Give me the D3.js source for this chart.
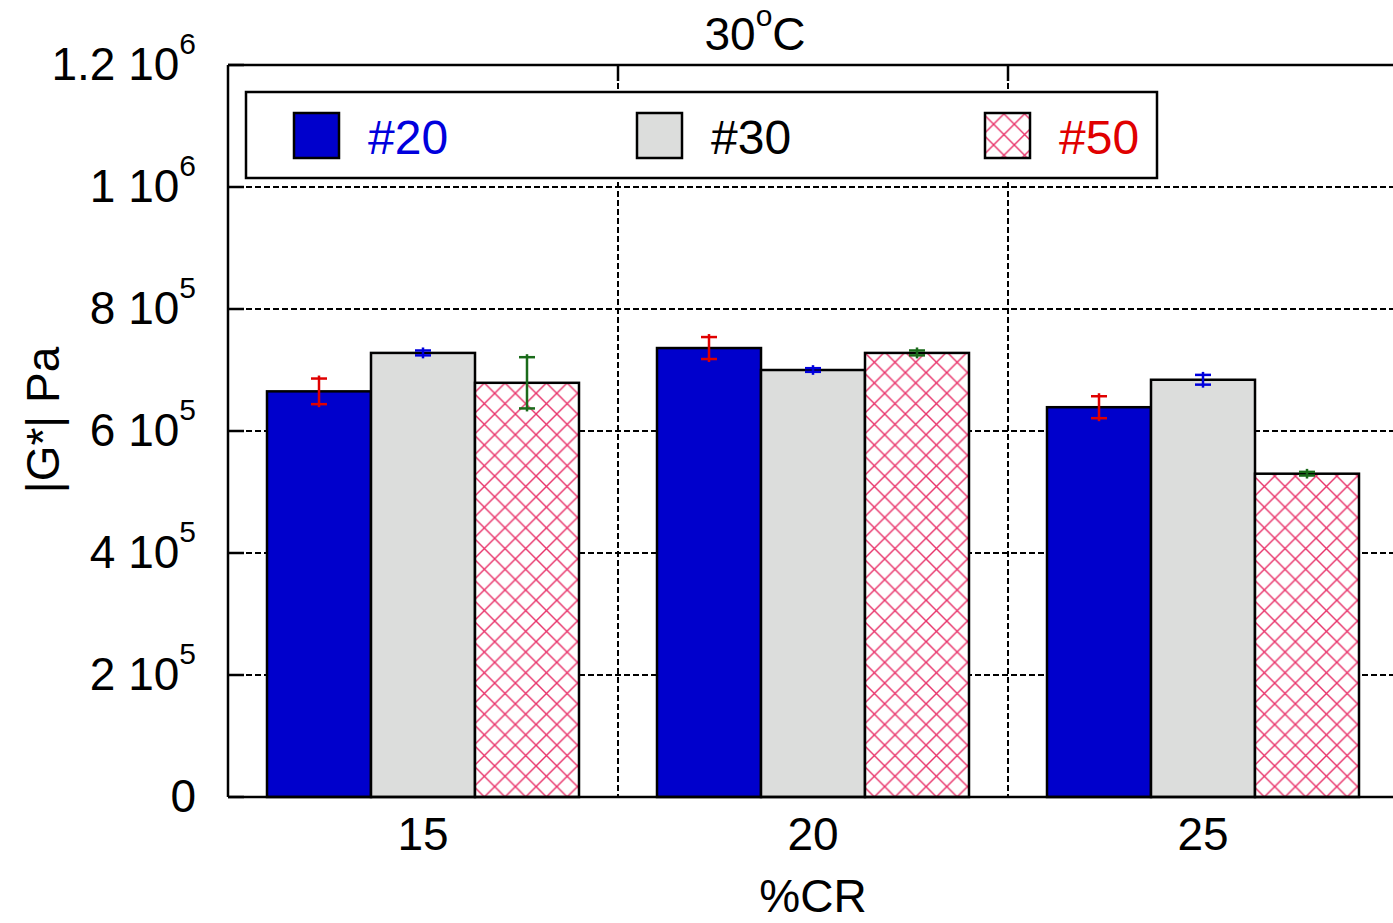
<!DOCTYPE html>
<html>
<head>
<meta charset="UTF-8">
<script src="https://d3js.org/d3.v7.min.js"></script>
<style>
  body { margin: 0; background: #fff; }
  svg { font-family: "Liberation Sans", Arial, sans-serif; display: block; }
  .grid { stroke: #000; stroke-width: 2; stroke-dasharray: 6,3; }
</style>
</head>
<body>
<svg id="chart" width="1393" height="923"></svg>
<script>
// data
const categories = ["15", "20", "25"];
const series = ["#20", "#30", "#50"];
const values = {
  "#20": [665000, 736000, 639000],
  "#30": [728000, 700000, 684000],
  "#50": [679000, 728000, 530000]
};
const errors = {
  "#20": [21000, 18000, 18000],
  "#30": [4000, 3000, 8000],
  "#50": [42000, 4000, 3000]
};
const yTicks = [0, 2e5, 4e5, 6e5, 8e5, 1e6, 1.2e6];
const yTickLabels = [["0", ""], ["2 10", "5"], ["4 10", "5"], ["6 10", "5"], ["8 10", "5"], ["1 10", "6"], ["1.2 10", "6"]];

const fills = { "#20": "#0000cc", "#30": "#dcdddc", "#50": "url(#hatch)" };
const errColors = { "#20": "#e00000", "#30": "#0000dd", "#50": "#1a6b1a" };
const textColors = { "#20": "#0000dd", "#30": "#000", "#50": "#e00000" };

const svg = d3.select("#chart");
const pLeft = 228, pTop = 65, pBottom = 797, pRight = 1398;
const fs = 46, sup = 30;

const y = d3.scaleLinear().domain([0, 1.2e6]).range([pBottom, pTop]);
const x = d3.scaleBand().domain(categories).range([pLeft, pRight]).paddingInner(0.2).paddingOuter(0.1);
const xs = d3.scaleBand().domain(series).range([0, x.bandwidth()]);
const step = x.step();

// hatch pattern
const defs = svg.append("defs");
const pat = defs.append("pattern").attr("id", "hatch")
  .attr("patternUnits", "userSpaceOnUse").attr("width", 20.7).attr("height", 20.7);
pat.append("rect").attr("width", 20.7).attr("height", 20.7).attr("fill", "#fff");
pat.append("path").attr("d", "M0,0L20.7,20.7M0,20.7L20.7,0")
  .attr("stroke", "#e8336a").attr("stroke-width", 1.4);

// grid
svg.append("g").selectAll("line").data(yTicks.slice(1, -1)).join("line")
  .attr("class", "grid").attr("x1", pLeft).attr("x2", 1393)
  .attr("y1", d => y(d)).attr("y2", d => y(d));
const vlines = d3.range(1, categories.length).map(i => pLeft + step * i);
svg.append("g").selectAll("line").data(vlines).join("line")
  .attr("class", "grid").attr("x1", d => d).attr("x2", d => d)
  .attr("y1", pTop).attr("y2", pBottom);

// ticks (inward)
svg.append("g").selectAll("line").data(yTicks).join("line")
  .attr("x1", pLeft).attr("x2", pLeft + 16).attr("y1", d => y(d)).attr("y2", d => y(d))
  .attr("stroke", "#000").attr("stroke-width", 2.5);
svg.append("g").selectAll("line").data(vlines).join("line")
  .attr("x1", d => d).attr("x2", d => d).attr("y1", pTop).attr("y2", pTop + 16)
  .attr("stroke", "#000").attr("stroke-width", 2.5);

// bars
const groups = svg.append("g").selectAll("g").data(categories).join("g")
  .attr("transform", d => `translate(${x(d)},0)`);
groups.each(function(cat, ci) {
  const g = d3.select(this);
  series.forEach(s => {
    const v = values[s][ci];
    g.append("rect")
      .attr("x", xs(s)).attr("y", y(v))
      .attr("width", xs.bandwidth()).attr("height", pBottom - y(v))
      .attr("fill", fills[s]).attr("stroke", "#000").attr("stroke-width", 2.5);
  });
  series.forEach(s => {
    const v = values[s][ci], e = errors[s][ci];
    const cx = xs(s) + xs.bandwidth() / 2;
    const eg = g.append("g").attr("stroke", errColors[s]).attr("stroke-width", 2.5);
    eg.append("line").attr("x1", cx).attr("x2", cx).attr("y1", y(v + e) - 3).attr("y2", y(v - e) + 3);
    eg.append("line").attr("x1", cx - 8).attr("x2", cx + 8).attr("y1", y(v + e)).attr("y2", y(v + e));
    eg.append("line").attr("x1", cx - 8).attr("x2", cx + 8).attr("y1", y(v - e)).attr("y2", y(v - e));
  });
});

// frame
svg.append("path").attr("d", `M${pLeft},${pTop}H1393M${pLeft},${pTop}V${pBottom}M${pLeft},${pBottom}H1393`)
  .attr("stroke", "#000").attr("stroke-width", 2.5).attr("fill", "none");

// y tick labels
const yl = svg.append("g").selectAll("text").data(yTicks).join("text")
  .attr("x", 196).attr("y", d => y(d) + 15)
  .attr("text-anchor", "end").attr("font-size", fs);
yl.each(function(d, i) {
  const t = d3.select(this);
  const lab = yTickLabels[i];
  t.append("tspan").text(lab[0]);
  if (lab[1]) t.append("tspan").attr("dy", -26).attr("font-size", sup).text(lab[1]);
});

// x tick labels
svg.append("g").selectAll("text").data(categories).join("text")
  .attr("x", d => x(d) + x.bandwidth() / 2).attr("y", 850)
  .attr("text-anchor", "middle").attr("font-size", fs).text(d => d);

// axis titles
svg.append("text").attr("x", 813).attr("y", 912).attr("text-anchor", "middle")
  .attr("font-size", fs).text("%CR");
svg.append("text").attr("transform", "translate(59,420) rotate(-90)")
  .attr("text-anchor", "middle").attr("font-size", fs).text("|G*| Pa");
const title = svg.append("text").attr("x", 755).attr("y", 50).attr("text-anchor", "middle").attr("font-size", fs);
title.append("tspan").text("30");
title.append("tspan").attr("dy", -24).attr("font-size", sup).text("o");
title.append("tspan").attr("dy", 24).text("C");

// legend
const lg = svg.append("g");
lg.append("rect").attr("x", 246).attr("y", 92).attr("width", 911).attr("height", 86)
  .attr("fill", "#fff").attr("stroke", "#000").attr("stroke-width", 2.5);
const legX = [294, 637, 985];
series.forEach((s, i) => {
  lg.append("rect").attr("x", legX[i]).attr("y", 113).attr("width", 45).attr("height", 45)
    .attr("fill", fills[s]).attr("stroke", "#000").attr("stroke-width", 2.5);
  lg.append("text").attr("x", legX[i] + 74).attr("y", 154).attr("font-size", 48)
    .attr("fill", textColors[s]).text(s);
});
</script>
</body>
</html>
